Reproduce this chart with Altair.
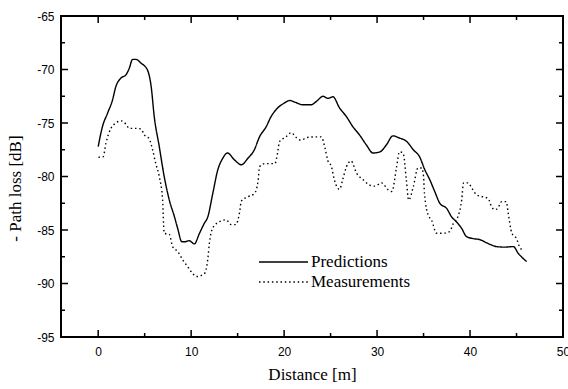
import altair as alt
import pandas as pd

# ---- data ----
pred_x = [0, 0.47, 1.0, 1.54, 1.9, 2.45, 2.98, 3.34, 3.7, 4.06, 4.6, 5.3, 5.7, 6.03, 6.57,
          7.1, 7.65, 8.2, 8.55, 9.0, 9.27, 9.8, 10.34, 10.9, 11.4, 11.8, 12.3, 12.86, 13.4, 13.9,
          14.66, 15.4, 16.1, 16.8, 17.35, 18.07, 18.6, 19.3, 20.0, 20.6, 21.3, 22.0, 22.9, 23.45,
          24.2, 24.7, 25.25, 25.97, 26.7, 27.4, 28.1, 28.85, 29.56, 30.3, 31.0, 31.7, 32.4, 33.15,
          33.9, 34.6, 35.1, 35.67, 36.2, 36.75, 37.5, 38.0, 38.5, 39.1, 39.6, 40.3, 41.06, 41.8,
          42.3, 42.85, 43.75, 44.65, 45.2, 46.1]
pred_y = [-77.2, -75.3, -74.1, -72.85, -71.6, -70.8, -70.5, -69.9, -69.05, -69.05, -69.4, -70.05,
          -71.6, -74.4, -77.2, -80.0, -82.2, -83.75, -84.85, -86.1, -86.1, -86.0, -86.3, -85.3,
          -84.4, -83.75, -81.7, -79.4, -78.3, -77.8, -78.45, -78.9, -78.3, -77.5, -76.3, -75.35,
          -74.4, -73.6, -73.15, -72.9, -73.1, -73.3, -73.3, -73.0, -72.5, -72.7, -72.55, -73.6,
          -74.4, -75.35, -76.1, -77.05, -77.8, -77.7, -77.05, -76.2, -76.4, -76.7, -77.5, -78.2,
          -79.3, -80.3, -81.4, -82.5, -83.0, -83.75, -84.2, -84.85, -85.6, -85.8, -85.9, -86.2,
          -86.4, -86.55, -86.6, -86.55, -87.2, -87.95]

meas_x = [0.03, 0.54, 0.83, 1.37, 1.9, 2.45, 2.98, 3.34, 4.06, 4.6, 4.96, 5.5, 5.85, 6.2, 6.57,
          6.93, 7.1, 7.65, 8.0, 8.55, 9.1, 9.6, 10.1, 10.6, 11.4, 11.8, 11.96, 12.3, 13.1, 13.76,
          14.3, 14.8, 15.2, 15.4, 16.1, 16.8, 17.2, 17.35, 17.9, 19.0, 19.3, 19.5, 20.2, 20.75,
          21.3, 21.8, 22.5, 23.45, 24.0, 24.4, 24.7, 25.1, 25.4, 25.97, 26.3, 26.7, 27.2, 27.8,
          28.5, 29.2, 29.74, 30.5, 31.2, 31.6, 32.1, 32.4, 32.8, 33.15, 33.4, 33.9, 34.4, 34.8,
          35.0, 35.1, 35.5, 35.85, 36.4, 37.1, 37.8, 38.2, 38.7, 39.1, 39.3, 39.8, 40.2, 40.7,
          41.4, 41.95, 42.3, 42.67, 43.0, 43.4, 43.9, 44.1, 44.5, 45.0, 45.4, 45.8]
meas_y = [-78.2, -78.15, -76.9, -75.5, -75.0, -74.8, -75.1, -75.5, -75.5, -75.55, -76.1, -76.5,
          -77.5, -78.8, -80.0, -82.2, -85.3, -85.4, -86.55, -87.0, -87.8, -88.4, -89.0, -89.35,
          -89.1, -87.65, -86.25, -84.85, -84.2, -84.05, -84.5, -84.5, -83.4, -82.3, -81.9, -81.6,
          -80.4, -79.1, -78.8, -78.8, -77.8, -76.75, -76.3, -75.9, -76.35, -76.6, -76.35, -76.3,
          -76.3, -77.35, -78.5, -79.1, -80.3, -81.2, -80.3, -79.1, -78.55, -79.7, -80.3, -80.8,
          -80.9, -80.6, -81.25, -81.4, -79.1, -77.7, -77.8, -80.3, -82.2, -80.95, -79.2, -79.2,
          -80.0, -81.6, -83.6, -84.05, -85.3, -85.3, -85.15, -84.4, -83.75, -82.2, -80.6, -80.6,
          -81.1, -81.7, -81.9, -82.05, -82.8, -83.1, -82.95, -82.35, -82.35, -83.4, -85.3, -85.8,
          -86.7, -86.9]

series_names = ["Predictions", "Measurements"]
x_major = [0, 10, 20, 30, 40, 50]
x_minor = [5, 15, 25, 35, 45]
y_major = [-65, -70, -75, -80, -85, -90, -95]
y_minor = [-67.5, -72.5, -77.5, -82.5, -87.5, -92.5]

W, H = 502, 321
SERIF = "Liberation Serif"
SANS = "Liberation Sans"

df = pd.concat([
    pd.DataFrame({"distance": pred_x, "loss": pred_y, "series": series_names[0]}),
    pd.DataFrame({"distance": meas_x, "loss": meas_y, "series": series_names[1]}),
])

xscale = alt.Scale(domain=[-4, 50], nice=False, zero=False)
yscale = alt.Scale(domain=[-95, -65], nice=False, zero=False)

x_axis = alt.Axis(values=x_major, title="Distance [m]", ticks=False, domain=False, grid=False,
                  labelFont=SANS, labelFontSize=12, labelColor="black", labelPadding=9,
                  labelFlush=False, labelOverlap=False,
                  titleFont=SERIF, titleFontSize=17, titleFontWeight="normal", titleColor="black",
                  titleY=42, titleBaseline="alphabetic")
y_axis = alt.Axis(values=y_major, title="- Path loss [dB]", ticks=False, domain=False, grid=False,
                  labelFont=SANS, labelFontSize=12, labelColor="black", labelPadding=7,
                  labelExpr="'' + datum.value", labelOverlap=False, labelFlush=False,
                  titleFont=SERIF, titleFontSize=17, titleFontWeight="normal", titleColor="black",
                  titleX=-41, titleY=172, titleAngle=270, titleBaseline="alphabetic",
                  titleAlign="center")

lines = alt.Chart(df).mark_line(color="black", strokeWidth=1.4, interpolate="monotone").encode(
    x=alt.X("distance:Q", scale=xscale, axis=x_axis),
    y=alt.Y("loss:Q", scale=yscale, axis=y_axis),
    strokeDash=alt.StrokeDash(
        "series:N",
        scale=alt.Scale(domain=series_names, range=[[1, 0], [1.5, 2.8]]),
        legend=alt.Legend(orient="none", legendX=197, legendY=236, title=None,
                          symbolType="stroke", symbolSize=2401, symbolStrokeWidth=1.3,
                          symbolStrokeColor="black", labelFont=SERIF, labelFontSize=17,
                          labelColor="black", labelOffset=2, clipHeight=20, rowPadding=0,
                          padding=0),
    ),
)

xmaj = pd.DataFrame({"distance": x_major})
xmin = pd.DataFrame({"distance": x_minor})
ymaj = pd.DataFrame({"loss": y_major})
ymin = pd.DataFrame({"loss": y_minor})


def xticks(data, length):
    bot = alt.Chart(data).mark_rule(color="black", strokeWidth=1.5).encode(
        x=alt.X("distance:Q", scale=xscale), y=alt.value(H), y2=alt.value(H - length))
    top = alt.Chart(data).mark_rule(color="black", strokeWidth=1.5).encode(
        x=alt.X("distance:Q", scale=xscale), y=alt.value(0), y2=alt.value(length))
    return [bot, top]


def yticks(data, length):
    left = alt.Chart(data).mark_rule(color="black", strokeWidth=1.5).encode(
        y=alt.Y("loss:Q", scale=yscale), x=alt.value(0), x2=alt.value(length))
    right = alt.Chart(data).mark_rule(color="black", strokeWidth=1.5).encode(
        y=alt.Y("loss:Q", scale=yscale), x=alt.value(W), x2=alt.value(W - length))
    return [left, right]


layers = [lines] + xticks(xmaj, 7) + xticks(xmin, 4) + yticks(ymaj, 7) + yticks(ymin, 4)

chart = alt.layer(*layers).properties(
    width=W, height=H,
    padding={"left": 61, "top": 16, "right": 5, "bottom": 52},
    autosize=alt.AutoSizeParams(type="none"),
    background="white",
).configure_view(stroke="black", strokeWidth=2)

chart.save("out.html", embed_options={"renderer": "svg", "actions": False})
